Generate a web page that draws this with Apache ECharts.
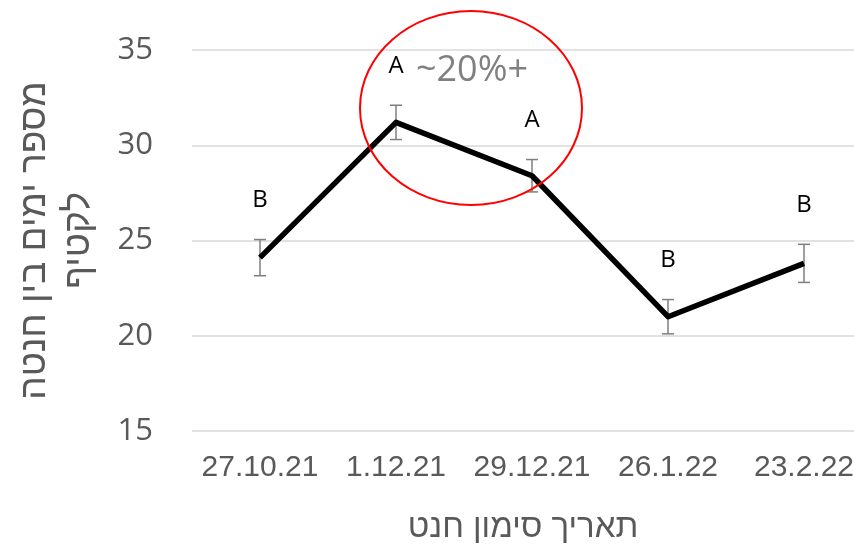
<!DOCTYPE html>
<html>
<head>
<meta charset="utf-8">
<style>
  html, body { margin: 0; padding: 0; background: #ffffff; }
  #chart { width: 854px; height: 545px; }
</style>
<script src="https://cdn.jsdelivr.net/npm/echarts@6/dist/echarts.min.js"></script>
</head>
<body>
<div id="chart"></div>
<script>
// Fruit-set tagging dates and the days from fruit set to harvest
const dates = ['27.10.21', '1.12.21', '29.12.21', '26.1.22', '23.2.22'];
const meanDays = [24.1, 31.2, 28.4, 21.0, 23.8];
const errDays = [0.95, 0.9, 0.85, 0.9, 1.0];
const groups = ['B', 'A', 'A', 'B', 'B'];
const yTicks = [15, 20, 25, 30, 35];

const grey = '#595959';
const chart = echarts.init(document.getElementById('chart'));

const errorData = meanDays.map((m, i) => [i, m, errDays[i], groups[i]]);

chart.setOption({
  animation: false,
  grid: { left: 192, right: -18, top: 50, bottom: 114, outerBoundsMode: 'none', containLabel: false },
  xAxis: {
    type: 'category',
    data: dates,
    boundaryGap: true,
    axisLine: { show: false },
    axisTick: { show: false },
    axisLabel: {
      interval: 0,
      hideOverlap: false,
      color: grey, fontFamily: 'Liberation Sans', fontSize: 30, margin: 22
    },
    name: 'תאריך סימון חנט',
    nameLocation: 'middle',
    nameGap: 80,
    nameTextStyle: {
      color: grey, fontFamily: 'Liberation Sans', fontSize: 33,
      padding: [0, 18, 0, 0]
    }
  },
  yAxis: {
    type: 'value',
    min: yTicks[0],
    max: yTicks[yTicks.length - 1],
    interval: 5,
    axisLine: { show: false },
    axisTick: { show: false },
    splitLine: { lineStyle: { color: '#d9d9d9', width: 1.5 } },
    axisLabel: {
      color: grey, fontFamily: 'Open Sans', fontSize: 31, margin: 39
    },
    name: 'מספר ימים בין חנטה\nלקטיף',
    nameLocation: 'middle',
    nameRotate: 90,
    nameGap: 91,
    nameTextStyle: {
      color: grey, fontFamily: 'Liberation Sans', fontSize: 37, lineHeight: 44
    }
  },
  series: [
    {
      type: 'custom',
      z: 1,
      data: errorData,
      renderItem: function (params, api) {
        const i = api.value(0);
        const m = api.value(1);
        const e = api.value(2);
        const top = api.coord([i, m + e]);
        const bot = api.coord([i, m - e]);
        const cap = 6;
        const style = { stroke: '#7f7f7f', lineWidth: 1.5 };
        return {
          type: 'group',
          children: [
            { type: 'line', shape: { x1: top[0], y1: top[1], x2: bot[0], y2: bot[1] }, style },
            { type: 'line', shape: { x1: top[0] - cap, y1: top[1], x2: top[0] + cap, y2: top[1] }, style },
            { type: 'line', shape: { x1: bot[0] - cap, y1: bot[1], x2: bot[0] + cap, y2: bot[1] }, style },
            {
              type: 'text',
              style: {
                x: top[0], y: top[1] - 39,
                text: groups[params.dataIndex],
                fill: '#000000',
                font: '24px "Open Sans"',
                align: 'center', verticalAlign: 'middle'
              }
            }
          ]
        };
      }
    },
    {
      type: 'line',
      z: 3,
      data: meanDays,
      symbol: 'none',
      lineStyle: { color: '#000000', width: 5.5, join: 'round' }
    }
  ],
  graphic: [
    {
      type: 'ellipse',
      shape: { cx: 471, cy: 108, rx: 111, ry: 97 },
      style: { fill: 'none', stroke: '#ff0000', lineWidth: 2 },
      z: 10
    },
    {
      type: 'text',
      x: 472, y: 71,
      style: {
        text: '~20%+',
        fill: '#808080',
        font: '36px "Open Sans"',
        align: 'center', verticalAlign: 'middle'
      },
      z: 10
    }
  ]
});
</script>
</body>
</html>
